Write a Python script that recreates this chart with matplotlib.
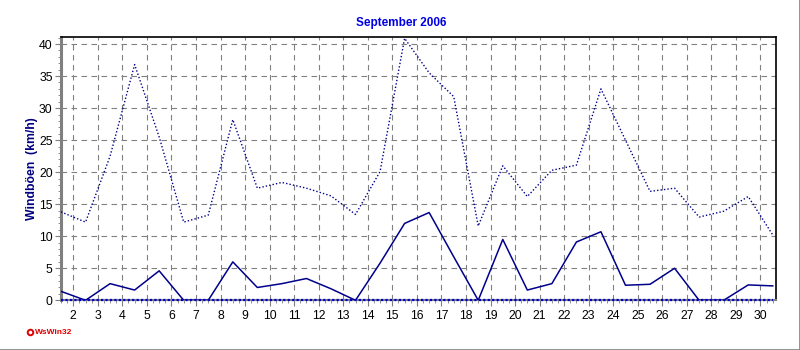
import numpy as np
import matplotlib
matplotlib.use("Agg")
import matplotlib.pyplot as plt
from matplotlib.ticker import MultipleLocator
from matplotlib.lines import Line2D

plt.rcParams['font.family'] = ['Liberation Sans', 'DejaVu Sans']

# Tage im September, Werte je Tag (km/h)
tage = np.arange(1, 31)
max_boeen = [13.8, 12.2, 22.5, 36.8, 25.5, 12.2, 13.3, 28.2, 17.5, 18.4,
             17.5, 16.3, 13.4, 20.1, 40.9, 35.5, 31.8, 11.6, 21.0, 16.2,
             20.3, 21.1, 33.0, 25.0, 17.0, 17.5, 13.0, 13.9, 16.2, 10.2]
mittel_boeen = [1.4, 0.0, 2.6, 1.6, 4.6, 0.0, 0.0, 6.0, 2.0, 2.6,
                3.4, 1.8, 0.0, 5.8, 12.0, 13.7, 6.8, 0.0, 9.5, 1.6,
                2.6, 9.1, 10.7, 2.35, 2.5, 5.0, 0.0, 0.0, 2.4, 2.25]
min_boeen = [0.0] * 30
x_labels = list(range(2, 31))

farbe = '#00008c'
grau = '#808080'

fig = plt.figure(figsize=(8, 3.5), dpi=100)
ax = fig.add_axes([61 / 800, 1 - 300.3 / 350, (775.7 - 61) / 800, (300.3 - 37) / 350])

# Werte liegen jeweils zwischen den Tagesmarken
xpos = tage + 0.5
ax.plot(xpos, max_boeen, color=farbe, lw=1.0, linestyle=(0, (1, 1.5)), zorder=3)
ax.plot(xpos, mittel_boeen, color=farbe, lw=1.1, zorder=3)
ax.plot(xpos, min_boeen, color='#0000cc', lw=1.6, linestyle=(0, (1, 1)), zorder=4, clip_on=False)

ax.set_xlim(1.5, 30.62)
ax.set_ylim(0, 41.1)
ax.set_xticks(x_labels)
ax.set_xticklabels([str(v) for v in x_labels])
ax.set_yticks(range(0, 41, 5))
ax.xaxis.set_minor_locator(MultipleLocator(0.25))
ax.yaxis.set_minor_locator(MultipleLocator(1))

ax.grid(True, which='major', color=grau, linestyle=(0, (5, 4)), lw=0.8)
ax.set_axisbelow(True)

ax.tick_params(axis='both', which='major', labelsize=8.8, length=4, color=grau, labelcolor='black')
ax.tick_params(axis='both', which='minor', length=2.5, color=grau)
ax.tick_params(axis='x', pad=3)
ax.tick_params(axis='y', pad=2)

ax.spines['left'].set_color(grau)
ax.spines['left'].set_linewidth(2.2)
ax.spines['bottom'].set_color(grau)
ax.spines['bottom'].set_linewidth(1.5)
ax.spines['top'].set_color('black')
ax.spines['top'].set_linewidth(1.2)
ax.spines['right'].set_color('black')
ax.spines['right'].set_linewidth(1.2)

fig.text(401 / 800, 1 - 23 / 350, 'September 2006', ha='center', va='center',
         fontsize=8.5, fontweight='bold', color='#0000e6')
fig.text(32 / 800, 1 - 169 / 350, 'Windböen  (km/h)', ha='center', va='center',
         rotation=90, fontsize=8.8, fontweight='bold', color='#000080')

# Programmkennung unten links
fig.add_artist(Line2D([30 / 800], [1 - 332 / 350], marker='o', markersize=4,
                      markerfacecolor='white', markeredgecolor='#e00000', markeredgewidth=1.4))
fig.text(34.5 / 800, 1 - 332 / 350, 'WsWin32', ha='left', va='center',
         fontsize=6, fontweight='bold', color='#e00000')

# grauer Rahmen rechts und unten
fig.add_artist(Line2D([0, 1], [0.5 / 350, 0.5 / 350], color=grau, lw=1.2))
fig.add_artist(Line2D([799.5 / 800, 799.5 / 800], [0, 1], color=grau, lw=1.2))

fig.savefig('out.png', dpi=100)
